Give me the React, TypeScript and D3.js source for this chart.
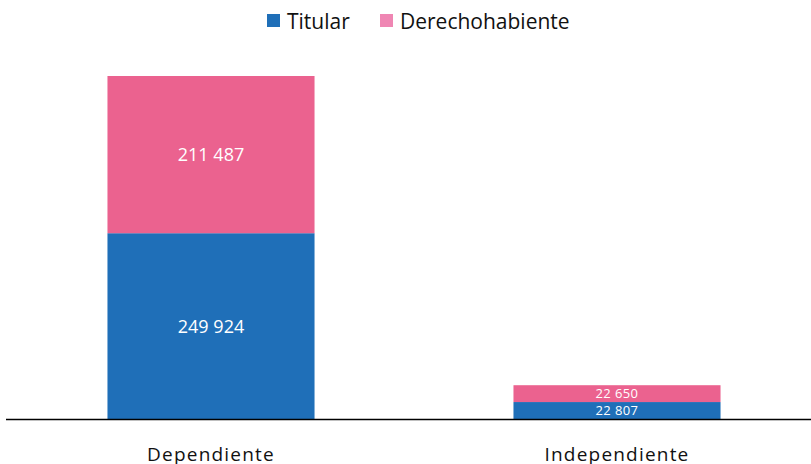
import React, { useEffect, useRef } from "react";
import * as d3 from "d3";

const categories = ["Dependiente", "Independiente"];
const series = ["Titular", "Derechohabiente"];
const titular = [249924, 22807];
const derechohabiente = [211487, 22650];

const colors = ["#1f6fb8", "#eb628f"];
const legendColors = ["#1f6fb8", "#ef86b3"];

const fmt = (v: number) => d3.format(",")(v).replace(/,/g, " ");

export default function App() {
  const svgRef = useRef<SVGSVGElement>(null);
  const width = 811;
  const height = 464;
  const marginBottom = 45;
  const marginTop = 76;

  useEffect(() => {
    const svg = d3.select(svgRef.current);
    svg.selectAll("*").remove();

    const rows = categories.map((c, i) => ({
      category: c,
      Titular: titular[i],
      Derechohabiente: derechohabiente[i],
    }));
    const stacked = d3.stack<any>().keys(series)(rows);

    const x = d3
      .scaleBand()
      .domain(categories)
      .range([8, 820])
      .paddingInner(0.49)
      .paddingOuter(0.245);

    const y = d3
      .scaleLinear()
      .domain([0, d3.max(rows, (d) => d.Titular + d.Derechohabiente) as number])
      .range([height - marginBottom, marginTop]);

    const font = "Open Sans, Noto Sans, sans-serif";

    stacked.forEach((s, si) => {
      const g = svg.append("g");
      g.selectAll("rect")
        .data(s)
        .join("rect")
        .attr("x", (d) => x(d.data.category) as number)
        .attr("width", x.bandwidth())
        .attr("y", (d) => y(d[1]))
        .attr("height", (d) => y(d[0]) - y(d[1]))
        .attr("fill", colors[si]);
      g.selectAll("text")
        .data(s)
        .join("text")
        .attr("x", (d) => (x(d.data.category) as number) + x.bandwidth() / 2)
        .attr("y", (d) => (y(d[0]) + y(d[1])) / 2)
        .attr("dy", "0.36em")
        .attr("text-anchor", "middle")
        .attr("fill", "white")
        .attr("font-family", font)
        .attr("font-size", (d) => (y(d[0]) - y(d[1]) > 40 ? 18 : 13))
        .attr("letter-spacing", (d) => (y(d[0]) - y(d[1]) > 40 ? 0 : 0.4))
        .text((d) => fmt(d[1] - d[0]));
    });

    // baseline
    svg
      .append("line")
      .attr("x1", 6)
      .attr("x2", width)
      .attr("y1", y(0) + 0.5)
      .attr("y2", y(0) + 0.5)
      .attr("stroke", "#000")
      .attr("stroke-width", 1.6);

    // category labels
    svg
      .append("g")
      .selectAll("text")
      .data(categories)
      .join("text")
      .attr("x", (d) => (x(d) as number) + x.bandwidth() / 2)
      .attr("y", 454)
      .attr("dy", "0.36em")
      .attr("text-anchor", "middle")
      .attr("font-family", font)
      .attr("font-size", 19)
      .attr("letter-spacing", 1.2)
      .attr("fill", "#111")
      .text((d) => d);

    // legend
    const legendX = [267, 380];
    const lg = svg.append("g");
    series.forEach((s, i) => {
      lg.append("rect")
        .attr("x", legendX[i])
        .attr("y", 14)
        .attr("width", 13)
        .attr("height", 13)
        .attr("fill", legendColors[i]);
      lg.append("text")
        .attr("x", legendX[i] + 20)
        .attr("y", 21)
        .attr("dy", "0.36em")
        .attr("font-family", font)
        .attr("font-size", 21)
        .attr("fill", "#111")
        .text(s);
    });
  }, []);

  return (
    <svg
      ref={svgRef}
      width={width}
      height={height}
      style={{ position: "absolute", left: 0, top: 0, background: "white" }}
    />
  );
}
